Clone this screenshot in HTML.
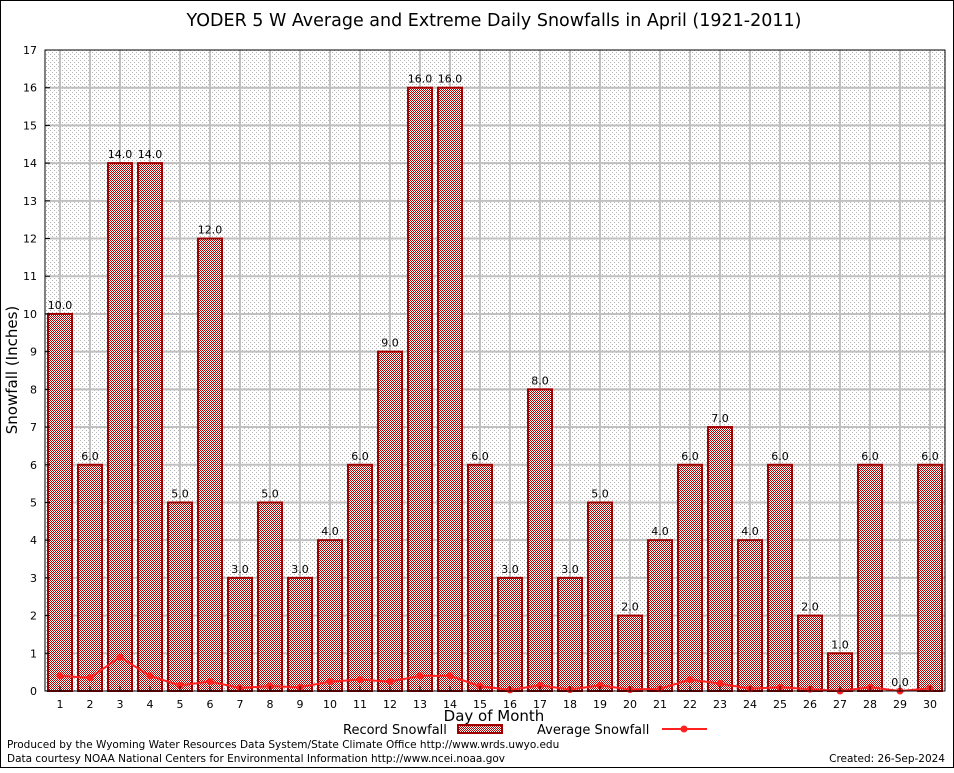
<!DOCTYPE html>
<html><head><meta charset="utf-8"><style>
body{margin:0;background:#fff;}
svg text{font-family:"DejaVu Sans","Liberation Sans",sans-serif;}
</style></head><body>
<svg id="chart" width="954" height="768" xmlns="http://www.w3.org/2000/svg">
<defs>
<pattern id="checker" width="2" height="2" patternUnits="userSpaceOnUse">
<rect width="2" height="2" fill="#ffffff"/><rect width="1" height="1" fill="#b00000"/><rect x="1" y="1" width="1" height="1" fill="#b00000"/>
</pattern>
<pattern id="dots" width="4" height="4" patternUnits="userSpaceOnUse">
<rect width="4" height="4" fill="#ffffff"/><rect width="1" height="1" fill="#b4b4b4"/><rect x="2" y="2" width="1" height="1" fill="#b4b4b4"/>
</pattern>
</defs>
<rect x="0.5" y="0.5" width="953" height="767" fill="#fff" stroke="#000"/>
<text x="494" y="26" font-size="17.5" text-anchor="middle">YODER 5 W Average and Extreme Daily Snowfalls in April (1921-2011)</text>
<rect x="45" y="50" width="900" height="641" fill="url(#dots)"/>
<g id="grid"></g>
<g id="bars"></g>
<g id="avg"></g>
<rect x="45" y="50" width="900" height="641" fill="none" stroke="#000"/>
<g id="axes"></g>
<text transform="translate(17,370) rotate(-90)" font-size="15" text-anchor="middle">Snowfall (Inches)</text>
<text x="494" y="721" font-size="15" text-anchor="middle">Day of Month</text>
<g>
<text x="343" y="734" font-size="13">Record Snowfall</text>
<rect x="458" y="725" width="44" height="8" fill="url(#checker)" stroke="#a00000" stroke-width="2"/>
<text x="537" y="734" font-size="13">Average Snowfall</text>
<line x1="662" y1="729" x2="707" y2="729" stroke="#ff2020" stroke-width="2"/>
<circle cx="684" cy="729" r="3.5" fill="#ff2020"/>
</g>
<text x="7" y="748" font-size="10.5">Produced by the Wyoming Water Resources Data System/State Climate Office http://www.wrds.uwyo.edu</text>
<text x="7" y="762" font-size="10.5">Data courtesy NOAA National Centers for Environmental Information http://www.ncei.noaa.gov</text>
<text x="945" y="762" font-size="10.5" text-anchor="end">Created:  26-Sep-2024</text>
</svg>
<script>
const days=[1,2,3,4,5,6,7,8,9,10,11,12,13,14,15,16,17,18,19,20,21,22,23,24,25,26,27,28,29,30];
const records=[10,6,14,14,5,12,3,5,3,4,6,9,16,16,6,3,8,3,5,2,4,6,7,4,6,2,1,6,0,6];
const averages=[0.4,0.35,0.9,0.4,0.15,0.25,0.08,0.13,0.1,0.25,0.3,0.25,0.4,0.4,0.13,0.03,0.15,0.04,0.15,0.04,0.06,0.3,0.2,0.06,0.1,0.05,0.0,0.1,0.0,0.07];
const yTicks=[0,1,2,3,4,5,6,7,8,9,10,11,12,13,14,15,16,17];
const NS="http://www.w3.org/2000/svg";
const X0=45,W=900,Y0=691,H=641,YMAX=17;
const xS=d=>X0+(d-0.5)*W/days.length;
const yS=v=>Y0-v*H/YMAX;
function mk(t,a,p){const e=document.createElementNS(NS,t);for(const k in a)e.setAttribute(k,a[k]);p.appendChild(e);return e;}
const grid=document.getElementById('grid'),axes=document.getElementById('axes'),bars=document.getElementById('bars'),avg=document.getElementById('avg');
yTicks.forEach(t=>{
 const y=yS(t);
 if(t>0&&t<YMAX){const g=mk('line',{x1:X0,x2:X0+W,y1:y,y2:y,stroke:'#c0c0c0','stroke-width':2},grid);
 
 }
 const tk=mk('line',{x1:X0,x2:X0+5,y1:y,y2:y,stroke:'#000'},axes);
 
 
 const tx=mk('text',{x:X0-8,y:y+4,'font-size':11,'text-anchor':'end','font-family':'Liberation Serif, serif'},axes);
 tx.textContent=t;
 
 
});
days.forEach((d,i)=>{
 const x=xS(d);
 const g=mk('line',{x1:x,x2:x,y1:50,y2:Y0,stroke:'#c0c0c0','stroke-width':2},grid);
 
 
 const tk=mk('line',{x1:x,x2:x,y1:Y0,y2:Y0-5,stroke:'#000'},axes);
 
 
 const tx=mk('text',{x:x,y:Y0+17,'font-size':11,'text-anchor':'middle','font-family':'Liberation Serif, serif'},axes);
 tx.textContent=d;
 
 
 const v=records[i],bw=24;
 const b=mk('rect',{x:x-bw/2,y:yS(v),width:bw,height:Y0-yS(v),fill:'url(#checker)',stroke:'#a00000','stroke-width':2},bars);
 
 
 const l=mk('text',{x:x,y:yS(v)-5,'font-size':11,'text-anchor':'middle'},bars);
 l.textContent=v.toFixed(1);
 
 
});
const pts=days.map((d,i)=>xS(d)+','+yS(averages[i])).join(' ');
const pl=mk('polyline',{points:pts,fill:'none',stroke:'#ff2020','stroke-width':2},avg);


days.forEach((d,i)=>{
 const c=mk('circle',{cx:xS(d),cy:yS(averages[i]),r:3.5,fill:'#ff2020'},avg);
 
 
});
</script>
</body></html>
